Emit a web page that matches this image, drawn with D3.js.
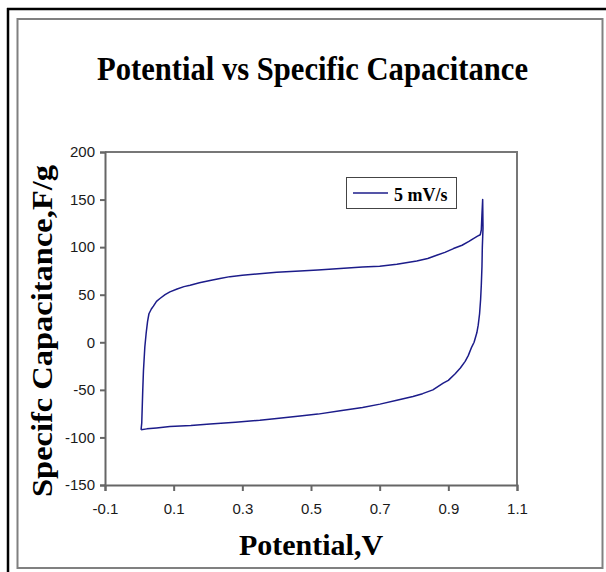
<!DOCTYPE html>
<html>
<head>
<meta charset="utf-8">
<script src="https://cdn.jsdelivr.net/npm/d3@7"></script>
<style>
body { margin: 0; background: #fff; }
svg { display: block; }
</style>
</head>
<body>
<svg></svg>
<script>
var width = 606,
	height = 572;

// CV loop at 5 mV/s (potential in V, capacitance in F/g)
var potential = [0.005, 0.007, 0.010, 0.012, 0.016, 0.020, 0.024, 0.028, 0.035, 0.041, 0.050, 0.060, 0.075, 0.089, 0.110, 0.130, 0.148, 0.175, 0.206, 0.235, 0.264, 0.300, 0.350, 0.400, 0.468, 0.520, 0.585, 0.650, 0.700, 0.750, 0.808, 0.840, 0.866, 0.890, 0.915, 0.940, 0.960, 0.973, 0.985, 0.993, 0.996, 0.998, 1.000, 1.001, 0.999, 0.998, 0.996, 0.994, 0.991, 0.987, 0.983, 0.975, 0.968, 0.958, 0.949, 0.935, 0.920, 0.900, 0.885, 0.855, 0.825, 0.797, 0.750, 0.701, 0.650, 0.585, 0.520, 0.468, 0.400, 0.351, 0.280, 0.206, 0.150, 0.089, 0.050, 0.022, 0.005];
var capacitance = [-92, -85, -50, -30, -5, 10, 22, 30, 35, 38, 43, 46, 50, 53, 56, 58.5, 60, 62.5, 65, 67, 69, 70.5, 72, 73.5, 75, 76, 77.5, 79, 80, 82, 85.5, 88, 91.5, 94.5, 98.5, 102, 106, 109, 111.5, 113, 118, 135, 150, 120, 100, 80, 60, 45, 30, 18, 10, 0, -5, -14, -20, -27, -33, -40, -43, -50, -54, -57, -61, -65, -68.5, -72, -75.5, -77.5, -80, -82, -84, -86, -87.5, -88.5, -90, -91, -92];

var xTicks = [-0.1, 0.1, 0.3, 0.5, 0.7, 0.9, 1.1];
var yTicks = [-150, -100, -50, 0, 50, 100, 150, 200];
var seriesName = "5 mV/s";

var svg = d3.select("svg").attr("width", width).attr("height", height);

// frames
svg.append("rect").attr("x", 0).attr("y", 0).attr("width", width).attr("height", height).attr("fill", "#fff");
svg.append("line").attr("x1", 8).attr("y1", 8).attr("x2", 8).attr("y2", height).attr("stroke", "#000").attr("stroke-width", 2.5);
svg.append("line").attr("x1", 7).attr("y1", 9).attr("x2", width).attr("y2", 9).attr("stroke", "#000").attr("stroke-width", 2.5);
svg.append("rect").attr("x", 17.5).attr("y", 19).attr("width", 585).attr("height", 549)
	.attr("fill", "none").attr("stroke", "#808080").attr("stroke-width", 2);

var x = d3.scaleLinear().domain([-0.1, 1.1]).range([105, 517]);
var y = d3.scaleLinear().domain([-150, 200]).range([485, 152]);

// plot frame (top/right)
svg.append("path")
	.attr("d", "M" + x(-0.1) + "," + y(200) + "H" + x(1.1) + "V" + y(-150))
	.attr("fill", "none").attr("stroke", "#777").attr("stroke-width", 2);

var xAxis = svg.append("g").attr("transform", "translate(0," + y(-150) + ")")
	.call(d3.axisBottom(x).tickValues(xTicks).tickSize(6).tickPadding(12).tickFormat(function(d){ return d.toFixed(1); }));
var yAxis = svg.append("g").attr("transform", "translate(" + x(-0.1) + ",0)")
	.call(d3.axisLeft(y).tickValues(yTicks).tickSize(5).tickPadding(5).tickFormat(function(d){ return String(d); }));

[xAxis, yAxis].forEach(function(g){
	g.select(".domain").attr("stroke", "#666").attr("stroke-width", 2);
	g.selectAll(".tick line").attr("stroke", "#666").attr("stroke-width", 2);
	g.selectAll(".tick text").attr("fill", "#1a1a1a")
		.style("font-family", "'Liberation Sans', Arial, sans-serif").style("font-size", "15px");
});

// curve
var pts = potential.map(function(v, i){ return [v, capacitance[i]]; });
var line = d3.line().x(function(d){ return x(d[0]); }).y(function(d){ return y(d[1]); });
svg.append("path").datum(pts).attr("d", line)
	.attr("fill", "none").attr("stroke", "#1c1c8a").attr("stroke-width", 1.5).attr("stroke-linejoin", "round");

// titles
var serif = "'Liberation Serif', 'Times New Roman', serif";
svg.append("text").attr("x", 312.5).attr("y", 80).attr("text-anchor", "middle")
	.attr("textLength", 431).attr("lengthAdjust", "spacingAndGlyphs")
	.style("font-family", serif).style("font-weight", "bold").style("font-size", "34px")
	.text("Potential vs Specific Capacitance");
svg.append("text").attr("x", 311).attr("y", 555).attr("text-anchor", "middle")
	.style("font-family", serif).style("font-weight", "bold").style("font-size", "30px")
	.text("Potential,V");
svg.append("text").attr("transform", "translate(52,331) rotate(-90)").attr("text-anchor", "middle")
	.attr("textLength", 332).attr("lengthAdjust", "spacingAndGlyphs")
	.style("font-family", serif).style("font-weight", "bold").style("font-size", "30px")
	.text("Specifc Capacitance,F/g");

// legend
var legend = svg.append("g");
legend.append("rect").attr("x", 346.5).attr("y", 177.5).attr("width", 110).attr("height", 31)
	.attr("fill", "#fff").attr("stroke", "#444").attr("stroke-width", 1);
legend.append("line").attr("x1", 353).attr("x2", 388).attr("y1", 193).attr("y2", 193)
	.attr("stroke", "#1c1c8a").attr("stroke-width", 1.5);
legend.append("text").attr("x", 394).attr("y", 201)
	.style("font-family", serif).style("font-weight", "bold").style("font-size", "18px")
	.text(seriesName);
</script>
</body>
</html>
